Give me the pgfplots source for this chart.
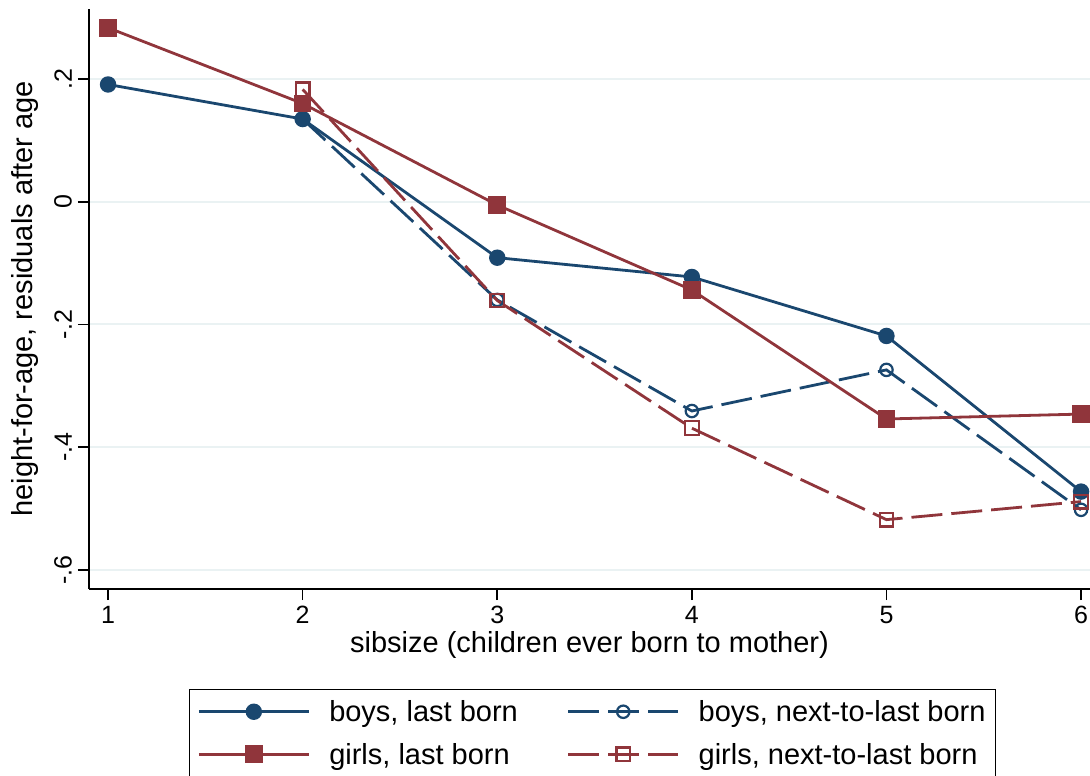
\documentclass[border=0pt]{standalone}
\usepackage{pgfplots}
\pgfplotsset{compat=1.18}
\usepackage{fontspec}
\setmainfont{Liberation Sans}
\definecolor{snavy}{RGB}{26,71,111}
\definecolor{smaroon}{RGB}{144,53,59}
\definecolor{sgrid}{RGB}{234,242,243}
\begin{document}
\begin{tikzpicture}
\useasboundingbox (-89pt,-187pt) rectangle (1001pt,589pt);
\begin{axis}[
  scale only axis,
  width=1001pt, height=580pt,
  xmin=0.902, xmax=6.046,
  ymin=-0.631, ymax=0.314,
  axis lines*=left,
  axis line style={line width=1.6pt, black},
  xtick={1,2,3,4,5,6},
  ytick={-0.6,-0.4,-0.2,0,0.2},
  yticklabels={-.6,-.4,-.2,0,.2},
  tick align=outside,
  major tick length=11pt,
  tick style={line width=1.6pt, black},
  ymajorgrids,
  grid style={line width=2pt, sgrid},
  /pgf/number format/assume math mode=true,
  tick label style={font=\fontsize{25}{30}\selectfont},
  yticklabel style={rotate=90, anchor=south, inner sep=6pt},
  xticklabel style={inner sep=6pt},
  xlabel={sibsize (children ever born to mother)},
  ylabel={height-for-age, residuals after age},
  label style={font=\fontsize{29}{34}\selectfont},
  xlabel style={at={(axis description cs:0.5,-0.0966)}, anchor=center},
  ylabel style={at={(axis description cs:-0.064,0.5)}, anchor=center, rotate=0},
  legend columns=2,
  legend style={
    at={(axis description cs:0.503,-0.1724)}, anchor=north,
    draw=black, line width=1pt,
    font=\fontsize{29}{34}\selectfont,
    inner xsep=8pt, inner ysep=9pt,
    cells={anchor=west},
    /tikz/every odd column/.append style={column sep=17pt},
    /tikz/every even column/.append style={column sep=47pt},
    row sep=16pt,
  },
  legend image code/.code={%
    \draw[mark repeat=2, mark phase=2, #1] plot coordinates {(0pt,0pt) (55pt,0pt) (110pt,0pt)};
  },
  every axis plot/.append style={line width=2.8pt},
]
\addplot[color=snavy, mark=*, mark size=6.8pt, mark options={solid, fill=snavy}]
coordinates {(1,0.191) (2,0.1347) (3,-0.0912) (4,-0.1226) (5,-0.2187) (6,-0.4723)};
\addlegendentry{boys, last born}
\addplot[color=snavy, dash pattern=on 31pt off 9pt, mark=o, mark size=6.2pt, mark options={solid, line width=2.2pt}]
coordinates {(2,0.1347) (3,-0.160) (4,-0.341) (5,-0.274) (6,-0.502)};
\addlegendentry{boys, next-to-last born}
\addplot[color=smaroon, mark=square*, mark size=7.4pt, mark options={solid, fill=smaroon}]
coordinates {(1,0.2834) (2,0.160) (3,-0.0054) (4,-0.1438) (5,-0.354) (6,-0.346)};
\addlegendentry{girls, last born}
\addplot[color=smaroon, dash pattern=on 31pt off 9pt, mark=square, mark size=6.8pt, mark options={solid, line width=2.2pt}]
coordinates {(2,0.183) (3,-0.161) (4,-0.369) (5,-0.518) (6,-0.4886)};
\addlegendentry{girls, next-to-last born}
\end{axis}
\end{tikzpicture}
\end{document}
